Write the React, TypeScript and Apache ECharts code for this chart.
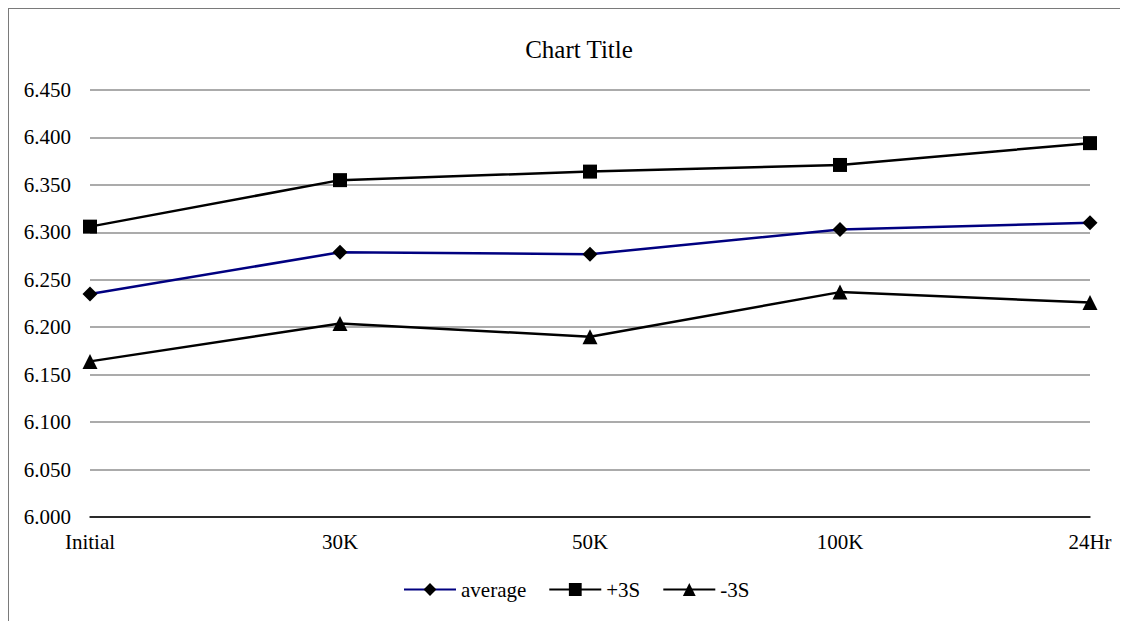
import React, { useEffect, useRef } from "react";
import * as echarts from "echarts";

const categories = ["Initial", "30K", "50K", "100K", "24Hr"];
const average = [6.235, 6.279, 6.277, 6.303, 6.31];
const plus3S = [6.306, 6.355, 6.364, 6.371, 6.394];
const minus3S = [6.164, 6.204, 6.19, 6.237, 6.226];

const FONT = "'Liberation Serif', 'Times New Roman', serif";

export default function App() {
  const ref = useRef<HTMLDivElement>(null);
  useEffect(() => {
    document.documentElement.style.overflow = "hidden";
    document.body.style.overflow = "hidden";
    if (!ref.current) return;
    const chart = echarts.init(ref.current, null, { renderer: "svg" });
    chart.setOption({
      animation: false,
      backgroundColor: "#ffffff",
      textStyle: { fontFamily: FONT },
      title: {
        text: "Chart Title",
        left: 565,
        top: 23,
        textAlign: "center",
        textStyle: { fontFamily: FONT, fontSize: 25, fontWeight: "normal", color: "#000" },
      },
      legend: {
        bottom: 16,
        left: 389,
        itemWidth: 52,
        itemHeight: 16,
        itemGap: 22,
        textStyle: { fontFamily: FONT, fontSize: 21, color: "#000" },
        data: ["average", "+3S", "-3S"],
      },
      grid: { left: 81, right: 38, top: 81, bottom: 104, containLabel: false },
      xAxis: {
        type: "category",
        data: categories,
        boundaryGap: false,
        axisLine: { show: true, lineStyle: { color: "#000", width: 1.5 } },
        axisTick: { show: false },
        axisLabel: { fontFamily: FONT, fontSize: 21, color: "#000", margin: 14 },
      },
      yAxis: {
        type: "value",
        min: 6.0,
        max: 6.45,
        interval: 0.05,
        axisLine: { show: false },
        axisTick: { show: false },
        axisLabel: {
          fontFamily: FONT,
          fontSize: 21,
          color: "#000",
          margin: 19,
          formatter: (v: number) => v.toFixed(3),
        },
        splitLine: { show: true, lineStyle: { color: "#8f8f8f", width: 1.5 } },
      },
      series: [
        {
          name: "average",
          type: "line",
          data: average,
          symbol: "diamond",
          symbolSize: 15,
          lineStyle: { color: "#000080", width: 2.5 },
          itemStyle: { color: "#000" },
        },
        {
          name: "+3S",
          type: "line",
          data: plus3S,
          symbol: "rect",
          symbolSize: 14,
          lineStyle: { color: "#000", width: 2.5 },
          itemStyle: { color: "#000" },
        },
        {
          name: "-3S",
          type: "line",
          data: minus3S,
          symbol: "triangle",
          symbolSize: 15,
          lineStyle: { color: "#000", width: 2.5 },
          itemStyle: { color: "#000" },
        },
      ],
    });
    return () => chart.dispose();
  }, []);

  return (
    <div
      style={{
        width: 1140,
        height: 630,
        boxSizing: "border-box",
        borderLeft: "1px solid #7a7a7a",
        borderTop: "1px solid #7a7a7a",
        background: "#fff",
        overflow: "hidden",
      }}
    >
      <div ref={ref} style={{ width: 1119, height: 612 }} />
    </div>
  );
}
